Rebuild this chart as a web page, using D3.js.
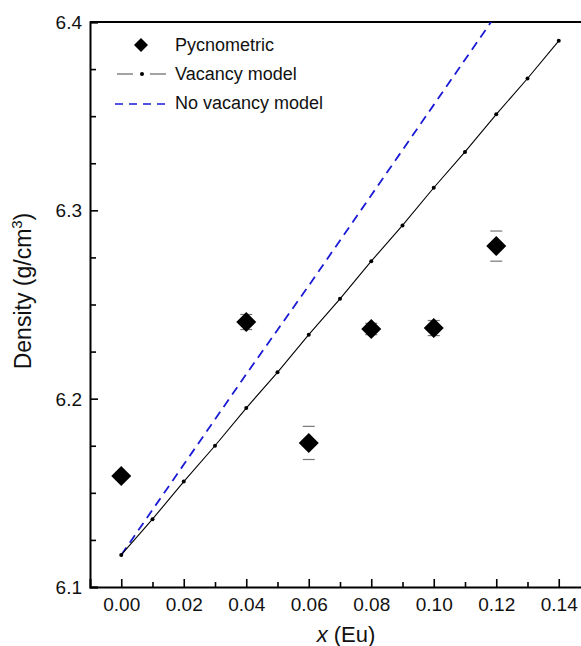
<!DOCTYPE html>
<html>
<head>
<meta charset="utf-8">
<script src="https://cdn.jsdelivr.net/npm/d3@7"></script>
<style>
  body { margin: 0; background: #fff; }
  svg { font-family: "Liberation Sans", Arial, sans-serif; }
</style>
</head>
<body>
<svg id="svg1" width="581" height="646"></svg>
<script>
// measured density (pycnometric) with error bars
var pycX = [0.00, 0.04, 0.06, 0.08, 0.10, 0.12];
var pycY = [6.159, 6.2407, 6.1765, 6.237, 6.2375, 6.281];
var pycErr = [0.000, 0.004, 0.0088, 0.003, 0.004, 0.008];

// vacancy model, every 0.01
var vacX = [0.00, 0.01, 0.02, 0.03, 0.04, 0.05, 0.06, 0.07, 0.08, 0.09, 0.10, 0.11, 0.12, 0.13, 0.14];
var vacY = [6.117, 6.136, 6.156, 6.175, 6.195, 6.214, 6.234, 6.253, 6.273, 6.292, 6.312, 6.331, 6.351, 6.370, 6.390];

// no vacancy model
var noVacX = [0.00, 0.02, 0.04, 0.06, 0.08, 0.10, 0.12];
var noVacY = [6.117, 6.165, 6.213, 6.260, 6.308, 6.356, 6.404];

var xTicks = [0.00, 0.02, 0.04, 0.06, 0.08, 0.10, 0.12, 0.14];
var xMinor = [0.01, 0.03, 0.05, 0.07, 0.09, 0.11, 0.13];
var yTicks = [6.1, 6.2, 6.3, 6.4];
var yMinor = [6.125, 6.15, 6.175, 6.225, 6.25, 6.275, 6.325, 6.35, 6.375];

var svg = d3.select('#svg1');

var plotLeft = 90, plotTop = 22, plotBottom = 587;
var scaleX = d3.scaleLinear().domain([-0.01, 0.15]).range([plotLeft, plotLeft + 0.16 * 3125]);
var scaleY = d3.scaleLinear().domain([6.1, 6.4]).range([plotBottom, plotTop]);

svg.append('defs').append('clipPath').attr('id', 'clip')
    .append('rect')
    .attr('x', scaleX(-0.01)).attr('y', scaleY(6.4))
    .attr('width', scaleX(0.15) - scaleX(-0.01))
    .attr('height', scaleY(6.1) - scaleY(6.4));

// axes (ticks pointing inward)
var xAxis = svg.append('g')
    .attr('transform', 'translate(0,' + plotBottom + ')')
    .call(d3.axisBottom(scaleX).tickValues(xTicks).tickSize(-8).tickPadding(11).tickFormat(d3.format('.2f')));
svg.append('g')
    .attr('transform', 'translate(0,' + plotBottom + ')')
    .call(d3.axisBottom(scaleX).tickValues(xMinor).tickSize(-5).tickFormat(''))
    .select('.domain').remove();

var yAxis = svg.append('g')
    .attr('transform', 'translate(' + plotLeft + ',0)')
    .call(d3.axisLeft(scaleY).tickValues(yTicks).tickSize(-8).tickPadding(8).tickFormat(d3.format('.1f')));
svg.append('g')
    .attr('transform', 'translate(' + plotLeft + ',0)')
    .call(d3.axisLeft(scaleY).tickValues(yMinor).tickSize(-6).tickFormat(''))
    .select('.domain').remove();

svg.selectAll('.domain').attr('stroke-width', 2).attr('stroke', '#000');
svg.selectAll('.tick line').attr('stroke-width', 1.6).attr('stroke', '#000');
svg.selectAll('.tick text').attr('font-size', 19).attr('fill', '#111').attr('font-family', '"Liberation Sans", Arial, sans-serif');
yAxis.selectAll('.tick text').attr('dy', '0.35em');

// top and right border
svg.append('line')
    .attr('x1', scaleX(-0.01)).attr('x2', scaleX(0.15))
    .attr('y1', scaleY(6.4)).attr('y2', scaleY(6.4))
    .attr('stroke', '#000').attr('stroke-width', 2);
svg.append('line')
    .attr('x1', scaleX(0.15)).attr('x2', scaleX(0.15))
    .attr('y1', scaleY(6.4)).attr('y2', scaleY(6.1))
    .attr('stroke', '#000').attr('stroke-width', 2);

var plot = svg.append('g').attr('clip-path', 'url(#clip)');

var line = d3.line()
    .x(function(d){ return scaleX(d[0]); })
    .y(function(d){ return scaleY(d[1]); });

// no vacancy model
plot.append('path')
    .datum(d3.zip(noVacX, noVacY))
    .attr('d', line)
    .attr('fill', 'none')
    .attr('stroke', '#1a1ad6')
    .attr('stroke-width', 1.8)
    .attr('stroke-dasharray', '9,6');

// vacancy model
var vac = d3.zip(vacX, vacY);
plot.append('path')
    .datum(vac)
    .attr('d', line)
    .attr('fill', 'none')
    .attr('stroke', '#000')
    .attr('stroke-width', 1.1);
plot.selectAll('.vac-dot')
    .data(vac)
    .enter()
    .append('circle')
    .attr('class', 'vac-dot')
    .attr('cx', function(d){ return scaleX(d[0]); })
    .attr('cy', function(d){ return scaleY(d[1]); })
    .attr('r', 2)
    .attr('fill', '#000');

// pycnometric points
var pyc = pycX.map(function(x, i){ return {x: x, y: pycY[i], e: pycErr[i]}; });

pyc.filter(function(d){ return d.e > 0; }).forEach(function(d){
    [d.y - d.e, d.y + d.e].forEach(function(v){
        plot.append('line')
            .attr('x1', scaleX(d.x) - 6).attr('x2', scaleX(d.x) + 6)
            .attr('y1', scaleY(v)).attr('y2', scaleY(v))
            .attr('stroke', '#777').attr('stroke-width', 1.2);
    });
});

function diamond(cx, cy, r) {
    return 'M' + cx + ',' + (cy - r) + 'L' + (cx + r) + ',' + cy + 'L' + cx + ',' + (cy + r) + 'L' + (cx - r) + ',' + cy + 'Z';
}

plot.selectAll('.pyc')
    .data(pyc)
    .enter()
    .append('path')
    .attr('class', 'pyc')
    .attr('d', function(d){ return diamond(scaleX(d.x), scaleY(d.y), 10); })
    .attr('fill', '#000');

// legend
var legend = svg.append('g').attr('font-size', 18).attr('fill', '#111');
legend.append('path').attr('d', diamond(141, 45, 7)).attr('fill', '#000');
legend.append('text').attr('x', 175).attr('y', 45).attr('dy', '0.35em').text('Pycnometric');

legend.append('line').attr('x1', 117).attr('x2', 133).attr('y1', 74).attr('y2', 74).attr('stroke', '#666').attr('stroke-width', 1.2);
legend.append('line').attr('x1', 150).attr('x2', 166).attr('y1', 74).attr('y2', 74).attr('stroke', '#666').attr('stroke-width', 1.2);
legend.append('circle').attr('cx', 142).attr('cy', 74).attr('r', 2).attr('fill', '#000');
legend.append('text').attr('x', 175).attr('y', 74).attr('dy', '0.35em').text('Vacancy model');

legend.append('line').attr('x1', 115).attr('x2', 165).attr('y1', 104).attr('y2', 104)
    .attr('stroke', '#1a1ad6').attr('stroke-width', 1.6).attr('stroke-dasharray', '8,6');
legend.append('text').attr('x', 175).attr('y', 103).attr('dy', '0.35em').text('No vacancy model');

// axis titles
var xt = svg.append('text')
    .attr('x', 346).attr('y', 642)
    .attr('text-anchor', 'middle')
    .attr('font-size', 22).attr('fill', '#111');
xt.append('tspan').attr('font-style', 'italic').text('x');
xt.append('tspan').text(' (Eu)');

var yt = svg.append('text')
    .attr('transform', 'translate(31,291) rotate(-90)')
    .attr('text-anchor', 'middle')
    .attr('font-size', 23).attr('fill', '#111');
yt.append('tspan').text('Density (g/cm');
yt.append('tspan').attr('font-size', 15).attr('dy', '-9').text('3');
yt.append('tspan').attr('dy', '9').text(')');
</script>
</body>
</html>
